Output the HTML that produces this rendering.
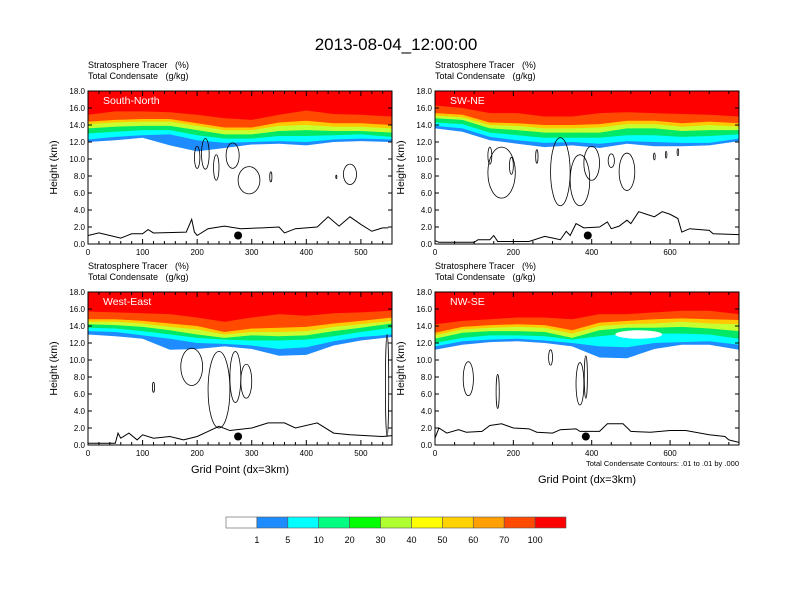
<!DOCTYPE html>
<html><head><meta charset="utf-8"><style>
html,body{margin:0;padding:0;background:#fff;}
svg{display:block;font-family:"Liberation Sans",sans-serif;}
</style></head><body>
<svg id="chart" width="792" height="612" viewBox="0 0 792 612" xmlns="http://www.w3.org/2000/svg">
<text x="396" y="50" font-size="17" text-anchor="middle">2013-08-04_12:00:00</text>
<g id="panels"></g>
<g id="cbar"></g>
</svg>
<script>
// ---- data ----
const bandColors = ["#1e8cff","#00ffff","#00ff80","#00ff00","#b0ff30","#ffff00","#ffd200","#ffa000","#ff4a00","#ff0000"];
const cbarLabels = ["1","5","10","20","30","40","50","60","70","100"];
const panelNames = ["South-North","SW-NE","West-East","NW-SE"];

const snX = [0,50,100,150,200,250,300,350,400,450,500,550];
const snB1 = [12.0,12.2,12.5,11.6,10.9,11.3,11.7,11.8,11.6,12.0,12.1,12.0];
const snB5 = [12.3,12.6,12.8,12.9,12.2,11.9,12.0,12.1,12.0,12.3,12.4,12.3];
const snB20 = [13.0,13.2,13.4,13.4,12.8,12.4,12.4,12.7,12.7,12.8,12.9,12.6];
const snB40 = [13.6,13.8,13.9,13.9,13.4,12.9,12.9,13.3,13.4,13.3,13.3,13.1];
const snB60 = [14.1,14.3,14.4,14.4,13.9,13.4,13.4,13.9,14.0,13.8,13.8,13.6];
const snB70 = [14.4,14.6,14.7,14.7,14.2,13.7,13.7,14.3,14.5,14.2,14.2,14.0];
const snB100 = [15.2,15.6,15.6,15.5,15.2,14.8,14.6,15.2,15.7,15.3,15.2,15.0];
const snTerrX = [0,20,40,60,80,100,110,120,180,190,195,200,220,250,280,320,350,360,380,420,440,460,480,500,520,540,550];
const snTerrY = [1.0,1.3,1.0,0.7,1.2,1.2,1.7,1.3,1.4,2.9,1.4,1.0,1.8,2.1,1.8,1.9,2.0,1.3,1.8,2.0,3.2,2.1,3.2,2.3,1.5,1.9,1.9];
const snLoops = [[200,10.2,5,1.3],[215,10.6,7,1.8],[235,9.0,5,1.5],[265,10.4,12,1.5],[295,7.5,20,1.6],[335,7.9,2,0.6],[455,7.9,1,0.2],[480,8.2,12,1.2]];
const snDot = [275,1.0];

const swX = [0,70,140,210,280,350,420,490,560,630,700,770];
const swB1 = [13.6,13.2,12.2,11.8,11.4,11.6,11.3,11.8,11.5,11.5,11.6,12.1];
const swB5 = [13.9,13.6,12.6,12.2,11.9,12.0,11.8,12.1,12.0,11.9,11.9,12.4];
const swB20 = [14.3,14.1,13.1,12.8,12.5,12.5,12.5,12.8,12.8,12.6,12.7,12.9];
const swB40 = [14.8,14.6,13.6,13.4,13.1,13.1,13.1,13.6,13.6,13.3,13.4,13.4];
const swB60 = [15.1,14.9,14.0,13.9,13.6,13.6,13.7,14.1,14.1,13.8,14.0,13.8];
const swB70 = [15.4,15.2,14.3,14.2,14.0,14.0,14.1,14.5,14.5,14.2,14.4,14.2];
const swB100 = [16.3,16.0,15.4,15.4,15.0,15.0,15.4,15.5,15.4,15.3,15.2,15.0];
const swTerrX = [0,10,100,110,140,150,160,240,280,300,320,335,345,360,380,420,440,450,470,490,500,520,540,560,580,600,620,630,650,700,710,776];
const swTerrY = [0.4,0.2,0.2,0.5,0.5,1.0,0.3,0.3,0.9,0.7,0.5,1.5,1.0,2.4,1.9,2.0,2.6,1.8,2.1,2.8,2.4,3.8,3.5,3.2,3.8,3.5,3.0,1.4,1.8,1.6,1.2,1.1];
const swLoops = [[140,10.4,5,1.0],[170,8.4,35,3],[195,9.2,5,1],[260,10.3,3,0.8],[320,8.5,25,4],[370,7.5,25,3],[400,9.5,20,2],[450,9.8,8,0.8],[490,8.5,20,2.2],[560,10.3,2,0.4],[590,10.5,2,0.4],[620,10.8,2,0.4]];
const swDot = [390,1.0];

const weX = [0,50,100,150,200,250,300,350,400,450,500,550];
const weB1 = [13.0,12.8,12.5,11.2,11.3,11.6,11.3,10.5,10.6,11.7,12.3,12.7];
const weB5 = [13.4,13.3,12.9,12.5,12.0,11.9,11.7,11.3,11.5,12.2,12.7,13.0];
const weB20 = [13.8,13.7,13.4,13.0,12.6,12.4,12.3,12.3,12.4,12.8,13.3,13.8];
const weB40 = [14.2,14.1,13.9,13.5,13.0,12.6,12.9,12.8,12.9,13.4,13.8,14.3];
const weB60 = [14.5,14.5,14.3,13.9,13.6,13.0,13.3,13.3,13.4,13.9,14.2,14.6];
const weB70 = [14.8,14.8,14.6,14.3,14.0,13.3,13.7,13.8,13.9,14.3,14.6,15.0];
const weB100 = [15.7,15.6,15.5,15.4,15.0,14.5,15.0,15.4,15.2,15.5,15.6,15.8];
const weTerrX = [0,50,55,60,75,90,100,120,150,175,200,220,240,260,300,330,360,380,420,450,480,540,557];
const weTerrY = [0.2,0.2,1.4,0.8,1.4,0.6,1.2,0.8,1.0,0.6,1.0,1.6,2.2,1.7,2.0,2.6,2.6,2.0,2.6,1.4,1.2,1.0,1.1];
const weLoops = [[120,6.8,2,0.6],[190,9.2,20,2.2],[240,6.5,20,4.5],[270,8.0,10,3],[290,7.5,10,2],[548,7,3,6]];
const weDot = [275,1.0];

const nwX = [0,70,140,210,280,350,420,490,560,630,700,770];
const nwB1 = [11.2,11.8,12.1,12.2,12.0,11.6,10.3,10.2,11.3,11.8,11.8,11.2];
const nwB5 = [11.6,12.2,12.4,12.5,12.3,12.0,11.6,11.5,12.0,12.1,12.2,11.8];
const nwB20 = [12.0,12.6,12.9,12.9,12.8,12.4,12.8,13.1,13.1,13.1,13.0,12.5];
const nwB40 = [12.5,13.2,13.4,13.4,13.3,12.6,13.5,13.8,13.8,13.9,13.7,13.4];
const nwB60 = [12.9,13.6,13.8,13.9,13.8,13.1,14.0,14.2,14.3,14.5,14.3,14.2];
const nwB70 = [13.2,13.9,14.1,14.2,14.1,13.5,14.4,14.6,14.8,14.9,14.8,14.7];
const nwB100 = [14.2,14.6,14.8,15.0,15.0,14.8,15.4,15.4,15.6,15.8,15.8,15.4];
const nwTerrX = [0,10,30,60,80,120,140,170,200,240,260,300,320,360,370,420,440,480,500,550,600,640,700,740,750,776];
const nwTerrY = [0.8,2.0,1.4,1.8,1.5,1.6,2.3,2.5,2.0,1.9,1.5,1.4,1.8,1.9,1.6,1.6,2.5,2.5,1.6,1.5,1.7,1.7,1.2,1.0,0.6,0.3];
const nwLoops = [[85,7.8,13,2],[160,6.3,4,2],[295,10.3,5,0.9],[370,7.2,10,2.5],[385,8,4,2.5]];
const nwHoles = [[520,13.0,60,0.5]];
const nwDot = [385,1.0];

// ---- drawing ----
const NS="http://www.w3.org/2000/svg";
function mk(tag, attrs, parent){const e=document.createElementNS(NS,tag);for(const k in attrs)e.setAttribute(k,attrs[k]);parent.appendChild(e);return e;}
const root=document.getElementById('panels');

const panels=[
 {name:panelNames[0],x0:88,y0:91,xmax:557,ticks:[0,100,200,300,400,500],minor:20,xs:snX,b:[snB1,snB5,snB20,snB40,snB60,snB70,snB100],tx:snTerrX,ty:snTerrY,loops:snLoops,holes:[],dot:snDot},
 {name:panelNames[1],x0:435,y0:91,xmax:776,ticks:[0,200,400,600],minor:50,xs:swX,b:[swB1,swB5,swB20,swB40,swB60,swB70,swB100],tx:swTerrX,ty:swTerrY,loops:swLoops,holes:[],dot:swDot},
 {name:panelNames[2],x0:88,y0:292,xmax:557,ticks:[0,100,200,300,400,500],minor:20,xs:weX,b:[weB1,weB5,weB20,weB40,weB60,weB70,weB100],tx:weTerrX,ty:weTerrY,loops:weLoops,holes:[],dot:weDot,xtitle:true},
 {name:panelNames[3],x0:435,y0:292,xmax:776,ticks:[0,200,400,600],minor:50,xs:nwX,b:[nwB1,nwB5,nwB20,nwB40,nwB60,nwB70,nwB100],tx:nwTerrX,ty:nwTerrY,loops:nwLoops,holes:nwHoles,dot:nwDot,xtitle:true,note:true}
];
const W=304,H=153;
const layerColors=["#1e8cff","#00ffff","#00e868","#c8ff30","#ffc800","#ff4a00","#ff0000"];
const NB='\u00a0';

panels.forEach((p,pi)=>{
 const g=mk('g',{},root);
 
 
 const sx=v=>p.x0+v/p.xmax*W, sy=v=>p.y0+H-v/18*H;
 const cid='clip'+pi;
 const cp=mk('clipPath',{id:cid},g); mk('rect',{x:p.x0,y:p.y0,width:W,height:H},cp);
 const pg=mk('g',{'clip-path':'url(#'+cid+')'},g);
 p.b.forEach((arr,li)=>{
   let d='M'+sx(0)+','+sy(18)+' L'+sx(0)+','+sy(arr[0]);
   p.xs.forEach((xv,i)=>{d+=' L'+(i==p.xs.length-1?sx(p.xmax):sx(xv))+','+sy(arr[i]);});
   d+=' L'+sx(p.xmax)+','+sy(18)+'Z';
   const el=mk('path',{d:d,fill:layerColors[li]},pg);
   
   
 });
 p.holes.forEach(h=>{
   const el=mk('ellipse',{cx:sx(h[0]),cy:sy(h[1]),rx:h[2]/p.xmax*W,ry:h[3]/18*H,fill:'#fff'},pg);
   
   
 });
 p.loops.forEach(l=>{
   const el=mk('ellipse',{cx:sx(l[0]),cy:sy(l[1]),rx:l[2]/p.xmax*W,ry:l[3]/18*H,fill:'none',stroke:'#000','stroke-width':0.8},pg);
   
   
 });
 let td='';p.tx.forEach((xv,i)=>{td+=(i?' L':'M')+sx(xv)+','+sy(p.ty[i]);});
 const tl=mk('path',{d:td,fill:'none',stroke:'#000','stroke-width':1},pg);
 
 
 const dot=mk('circle',{cx:sx(p.dot[0]),cy:sy(p.dot[1]),r:4,fill:'#000'},g);
 
 
 const fr=mk('rect',{x:p.x0,y:p.y0,width:W,height:H,fill:'none',stroke:'#000','stroke-width':1},g);
 
 
 for(let v=0;v<=18;v+=2){
   mk('line',{x1:p.x0,x2:p.x0+4,y1:sy(v),y2:sy(v),stroke:'#000'},g);
   mk('line',{x1:p.x0+W,x2:p.x0+W-4,y1:sy(v),y2:sy(v),stroke:'#000'},g);
   const t=mk('text',{x:p.x0-3,y:sy(v)+3,'font-size':8,'text-anchor':'end'},g);t.textContent=v.toFixed(1);
   
   
 }
 for(let v=0;v<=p.xmax;v+=p.minor){
   const big=p.ticks.indexOf(v)>=0;
   mk('line',{x1:sx(v),x2:sx(v),y1:p.y0+H,y2:p.y0+H-(big?5:3),stroke:'#000'},g);
   mk('line',{x1:sx(v),x2:sx(v),y1:p.y0,y2:p.y0+(big?5:3),stroke:'#000'},g);
 }
 p.ticks.forEach(v=>{
   const t=mk('text',{x:sx(v),y:p.y0+H+11,'font-size':8,'text-anchor':'middle'},g);t.textContent=v;
   
   
 });
 const yt=mk('text',{x:0,y:0,'font-size':10.5,'text-anchor':'middle',transform:'translate('+(p.x0-31)+','+(p.y0+H/2)+') rotate(-90)'},g);
 yt.textContent='Height (km)';
 
 
 const nm=mk('text',{x:p.x0+15,y:p.y0+13,'font-size':10.5,fill:'#fff'},g);nm.textContent=p.name;
 
 
 const h1=mk('text',{x:p.x0,y:p.y0-23,'font-size':9},g);h1.textContent='Stratosphere Tracer'+NB+NB+NB+'(%)';
 
 
 const h2=mk('text',{x:p.x0,y:p.y0-12,'font-size':9},g);h2.textContent='Total Condensate'+NB+NB+NB+'(g/kg)';
 
 
 if(p.note){
   const n=mk('text',{x:p.x0+W,y:p.y0+H+21,'font-size':7.5,'text-anchor':'end'},g);n.textContent='Total Condensate Contours: .01 to .01 by .000';
   
   
 }
 if(p.xtitle){
   const xt=mk('text',{x:p.x0+W/2,y:p.y0+H+(p.note?38:28),'font-size':11,'text-anchor':'middle'},g);xt.textContent='Grid Point (dx=3km)';
   
   
 }
});

// colorbar
const cb=document.getElementById('cbar');
const cbColors=["#ffffff"].concat(bandColors);
const bw=340/cbColors.length;
cbColors.forEach((c,i)=>{
 const r=mk('rect',{x:226+i*bw,y:517,width:bw,height:11,fill:c,stroke:'#555','stroke-width':0.6},cb);
 
 
});
cbarLabels.forEach((l,i)=>{
 const t=mk('text',{x:226+(i+1)*bw,y:543,'font-size':9,'text-anchor':'middle'},cb);t.textContent=l;
 
 
});
</script>
</body></html>
